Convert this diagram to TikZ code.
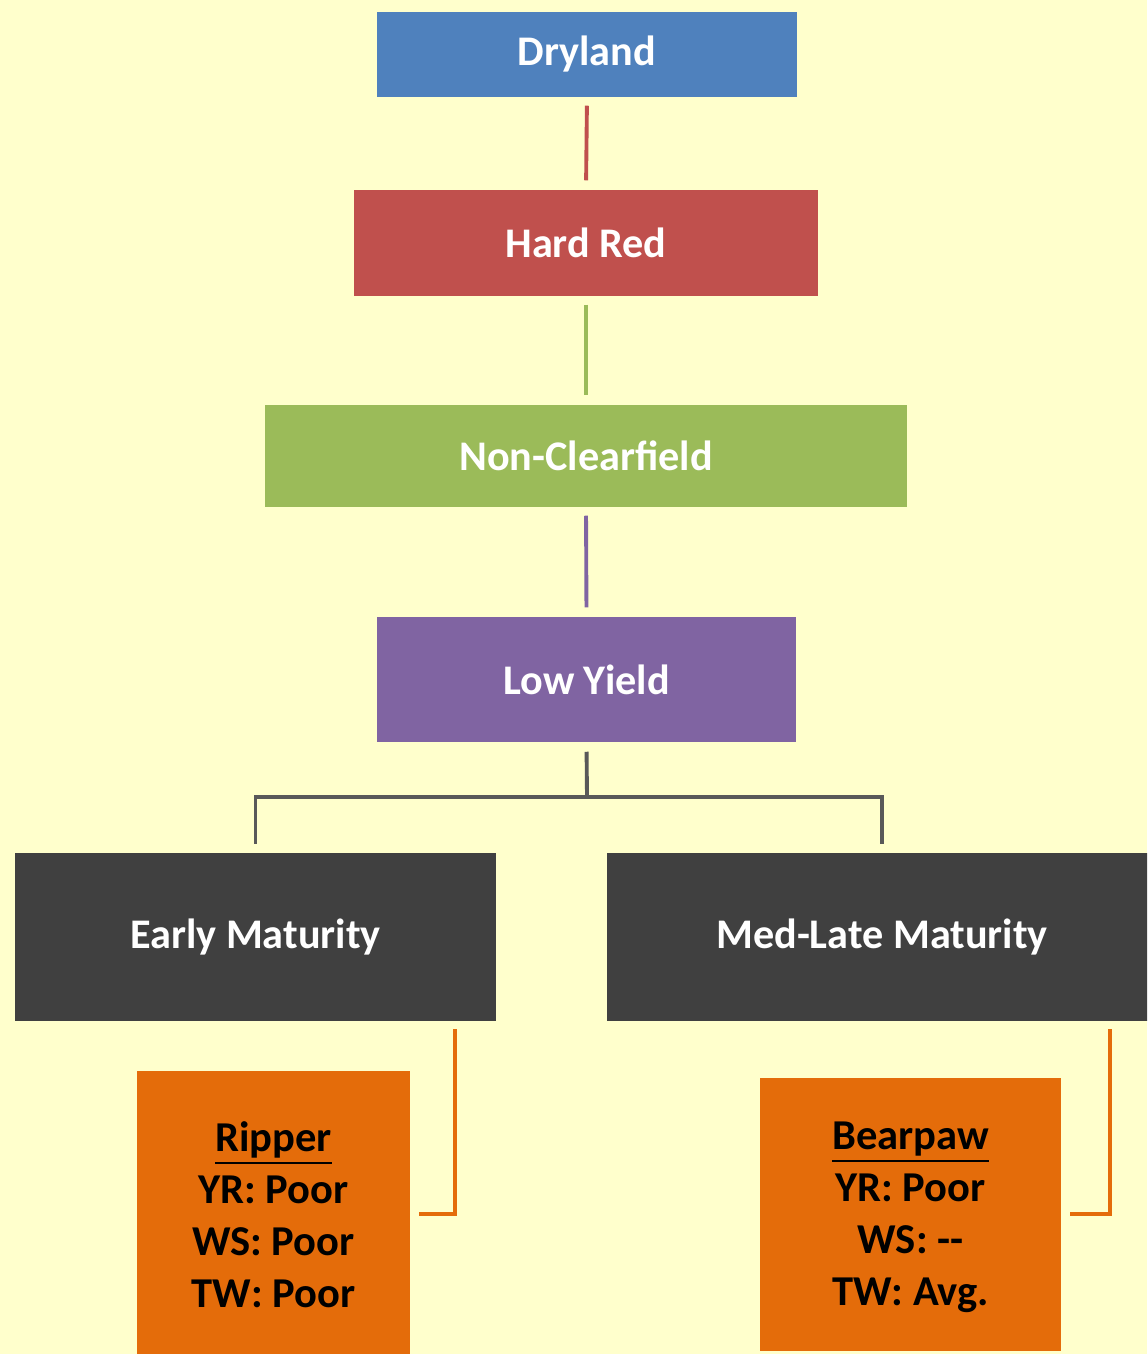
\documentclass[tikz,border=0pt]{standalone}
\usepackage{fontspec}
\setmainfont{Carlito}
\usetikzlibrary{positioning}
\definecolor{bgyellow}{HTML}{FFFFCC}
\definecolor{cblue}{HTML}{4F81BD}
\definecolor{cred}{HTML}{C0504D}
\definecolor{cgreen}{HTML}{9BBB59}
\definecolor{cpurple}{HTML}{8064A2}
\definecolor{cdark}{HTML}{404040}
\definecolor{cgrey}{HTML}{595959}
\definecolor{corange}{HTML}{E46C0A}
\tikzset{
  box/.style={rectangle, inner sep=0pt, text=white, font=\fontsize{12}{14}\bfseries\selectfont},
  card/.style={rectangle, inner sep=0pt, fill=corange, align=center, text=black, font=\fontsize{12.1}{14.8}\bfseries\selectfont},
  link/.style={line width=1.1pt}
}
\begin{document}
\begin{tikzpicture}[line join=miter, line cap=rect, x=0.01cm, y=-0.01cm]
\def \W{1147};
\def \H{1354};
\useasboundingbox (0,0) rectangle (\W,\H);
\fill[bgyellow] (0,0) rectangle (\W,\H);
\clip (0,0) rectangle (\W,\H);
% levels
\node[box, fill=cblue, minimum width=4.2cm, minimum height=0.85cm] (dry) at (587,54.5) {Dryland};
\node[box, fill=cred, minimum width=4.64cm, minimum height=1.06cm] (hard) at (586,243) {Hard Red};
\node[box, fill=cgreen, minimum width=6.42cm, minimum height=1.02cm] (nocl) at (586,456) {Non-Clearfield};
\node[box, fill=cpurple, minimum width=4.19cm, minimum height=1.25cm] (low) at (586.5,679.5) {Low Yield};
\node[box, fill=cdark, minimum width=4.81cm, minimum height=1.68cm] (early) at (255.5,937) {Early Maturity};
\node[box, fill=cdark, minimum width=5.6cm, minimum height=1.68cm, anchor=west] (late) at (606,937) {};
\node[box] at (882,937) {Med-Late Maturity};
% varieties
\node[card, minimum width=2.73cm, minimum height=3.0cm, anchor=north] (ripper) at (273.5,1070) {};
\node[card, minimum width=3.01cm, minimum height=2.73cm, anchor=north] (bear) at (910.5,1077) {};
\node[card, anchor=north] at (273.5,1121) {\underline{Ripper}\\YR: Poor\\WS: Poor\\TW: Poor};
\node[card, anchor=north] at (910.5,1121) {\underline{Bearpaw}\\YR: Poor\\WS: -{}-\\TW: Avg.};
% connectors
\foreach \a/\b/\c in {dry/hard/cred, hard/nocl/cgreen, nocl/low/cpurple}{
  \draw[link, \c, line cap=butt, shorten <=0.08cm, shorten >=0.09cm] (\a.south) -- (\b.north);
}
\coordinate (fork) at (587,797);
\draw[link, cgrey, line cap=butt, shorten <=0.09cm] (low.south) -- (fork);
\draw[link, cgrey] (early.north |- 0,842) |- (fork) -| (882,842);
\draw[link, corange] (455,1031) |- ([xshift=0.1cm]ripper.east |- 0,1214);
\draw[link, corange] (1110,1031) |- ([xshift=0.1cm]bear.east |- 0,1214);
\end{tikzpicture}
\end{document}
